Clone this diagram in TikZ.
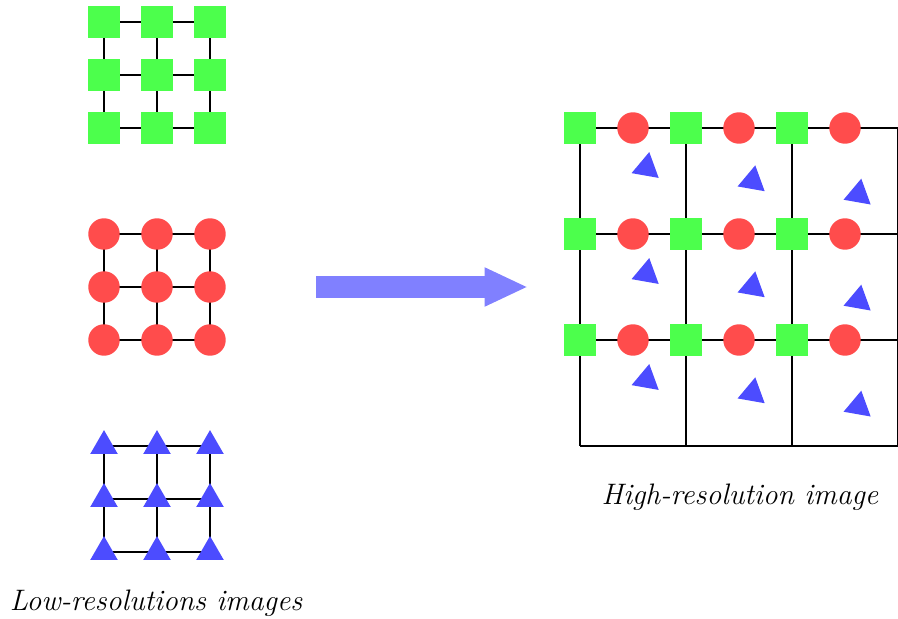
\documentclass[tikz,border=0pt]{standalone}
\usetikzlibrary{shapes.geometric,arrows.meta}
\begin{document}
\begin{tikzpicture}[x=0.018868cm,y=-0.018868cm,
  gridline/.style={line width=1.1pt,black},
  gsq/.style={rectangle,fill=green!70,minimum size=0.604cm,inner sep=0pt},
  rdot/.style={circle,fill=red!70,minimum size=0.594cm,inner sep=0pt},
  btri/.style={regular polygon,regular polygon sides=3,fill=blue!70,minimum size=0.6cm,inner sep=0pt},
  bigarrow/.style={line width=0.4264cm,blue!50,-{Triangle[width=0.679cm,length=0.82cm]}},
  lbl/.style={font=\fontsize{15.9}{19}\selectfont\itshape,inner sep=0pt}]
\useasboundingbox (0,0) rectangle (898,619);
% ---------- low resolution grids ----------
\foreach \i in {0,1,2}{
  \foreach \j in {0,1,2}{
    \coordinate (g\i\j) at ({104+53*\i},{22+53*\j});
    \coordinate (r\i\j) at ({104+53*\i},{234+53*\j});
    \coordinate (b\i\j) at ({104+53*\i},{446+53*\j});
  }
}
\foreach \p in {g,r,b}{
  \foreach \k in {0,1,2}{
    \draw[gridline] (\p0\k) -- (\p2\k);
    \draw[gridline] (\p\k0) -- (\p\k2);
  }
}
\foreach \i in {0,1,2}{
  \foreach \j in {0,1,2}{
    \node[gsq] (G\i\j) at (g\i\j) {};
    \node[rdot] (R\i\j) at (r\i\j) {};
    \node[btri] (B\i\j) at (b\i\j) {};
  }
}
\node[lbl] (lowlbl) at (156,603) {Low-resolutions images};
% ---------- arrow ----------
\coordinate (as) at (316,287);
\coordinate (ae) at (528,287);
\draw[bigarrow] (as) -- (ae);
% ---------- high resolution grid ----------
\foreach \i in {0,1,2,3}{
  \foreach \j in {0,1,2,3}{
    \coordinate (h\i\j) at ({580+106*\i},{128+106*\j});
  }
}
\foreach \k in {0,1,2,3}{
  \draw[gridline] (h0\k) -- (h3\k);
  \draw[gridline] (h\k0) -- (h\k3);
}
\foreach \i in {0,1,2}{
  \foreach \j in {0,1,2}{
    \node[gsq] (HG\i\j) at (h\i\j) {};
    \node[rdot] (HR\i\j) at ({633+106*\i},{128+106*\j}) {};
    \node[btri,rotate=-10] (HB\i\j) at ({646.5+106*\i},{167.7+13.3*\i+106*\j}) {};
  }
}
\node[lbl] (highlbl) at (740,497) {High-resolution image};
\end{tikzpicture}
\end{document}
